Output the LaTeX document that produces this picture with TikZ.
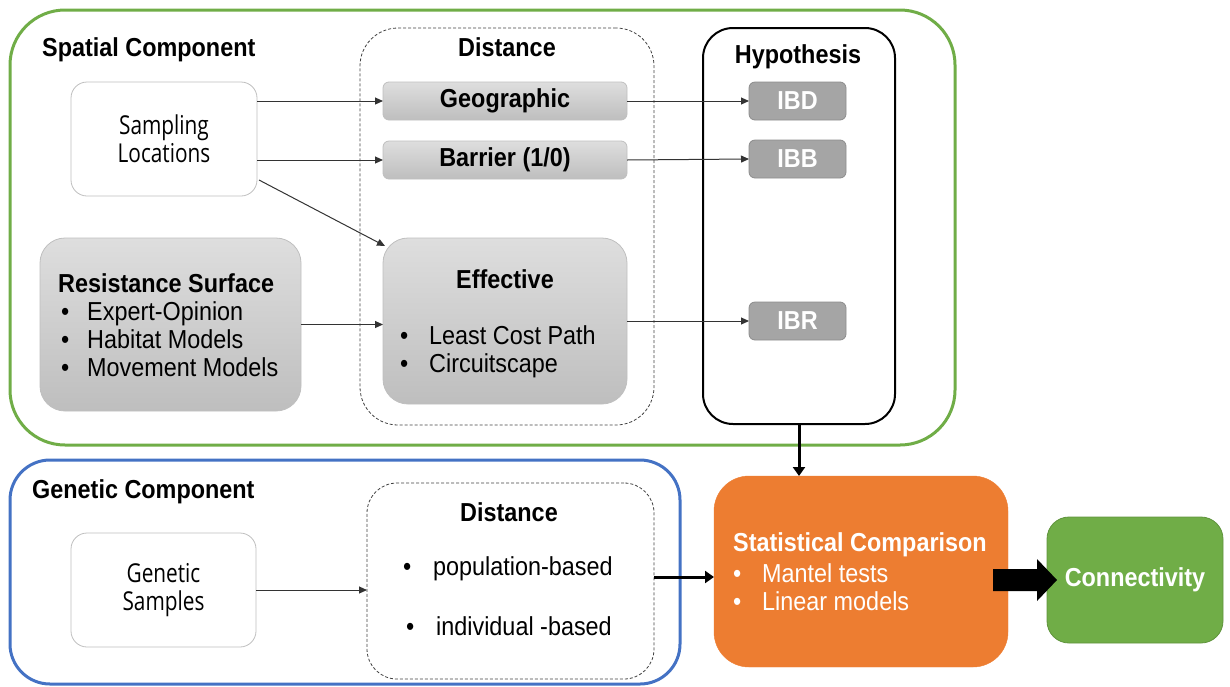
\documentclass[tikz,border=0pt]{standalone}
\usepackage{fontspec}
\setmainfont{Liberation Sans}[FakeStretch=0.9]
\newfontfamily\labelfont{Open Sans}[FakeStretch=0.8]
\usetikzlibrary{arrows.meta,calc}

\definecolor{sgreen}{HTML}{70AD47}
\definecolor{gblue}{HTML}{4472C4}
\definecolor{sorange}{HTML}{ED7D31}
\definecolor{hypfill}{HTML}{A5A5A5}
\definecolor{gtop}{HTML}{DEDEDE}
\definecolor{gbot}{HTML}{BEBEBE}
\definecolor{boxedge}{HTML}{BFBFBF}
\definecolor{linegray}{HTML}{333333}

\tikzset{
  base/.style={rectangle, inner sep=0pt, outer sep=0pt},
  panel/.style={base, line width=3pt},
  dashbox/.style={base, draw=black!75, line width=0.8pt, dash pattern=on 3pt off 2pt},
  greybox/.style={base, draw=boxedge, top color=gtop, bottom color=gbot, line width=0.8pt},
  hypbox/.style={base, draw=hypfill!85!black, fill=hypfill, text=white,
    font=\bfseries\fontsize{26}{28}\selectfont, line width=0.8pt, rounded corners=6pt,
    minimum width=97pt, minimum height=38pt},
  whitebox/.style={base, draw=boxedge, fill=white, line width=0.8pt, rounded corners=16pt,
    font=\labelfont\fontsize{26}{28}\selectfont, align=center},
  title/.style={inner sep=0pt, font=\bfseries\fontsize{26}{28}\selectfont},
  body/.style={inner sep=0pt, align=left, font=\fontsize{26}{28}\selectfont},
  link/.style={draw=linegray, line width=1pt, -{Triangle[length=8pt,width=7pt]}},
  boldlink/.style={draw=black, line width=3pt, -{Triangle[length=9pt,width=12pt]}},
}

\begin{document}
\begin{tikzpicture}[x=1pt,y=-1pt]
\useasboundingbox (0,0) rectangle (1230,686);

% outer panels
\node[panel, draw=sgreen, rounded corners=55pt, minimum width=945pt, minimum height=435pt]
  (spatial) at (482.5,227.5) {};
\node[panel, draw=gblue, rounded corners=40pt, minimum width=670pt, minimum height=224pt]
  (genetic) at (345,572) {};

\node[title, anchor=west] (spatialtitle) at (42,50) {Spatial Component};
\node[title, anchor=west] (genetictitle) at (32,492) {Genetic Component};

% spatial distance group
\node[dashbox, rounded corners=38pt, minimum width=294pt, minimum height=397pt]
  (distS) at (507,226.5) {};
\node[title] (distStitle) at (507,47) {Distance};

% hypothesis group
\node[base, draw=black, line width=2pt, rounded corners=30pt, minimum width=192pt, minimum height=396pt]
  (hyp) at (799,226) {};
\node[title] (hyptitle) at (798,57) {Hypothesis};

% spatial inputs
\node[whitebox, minimum width=186pt, minimum height=114pt] (samp) at (164,139)
  {Sampling\\Locations};
\node[greybox, rounded corners=25pt, minimum width=261pt, minimum height=173pt]
  (res) at (170.5,324.5) {};
\node[title, anchor=west] (restitle) at (58,283) {Resistance Surface};
\node[body, anchor=west] (reslist) at (61,339)
  {\makebox[26pt][l]{•}Expert-Opinion\\\makebox[26pt][l]{•}Habitat Models\\\makebox[26pt][l]{•}Movement Models};

% spatial distances
\node[greybox, rounded corners=6pt, minimum width=244pt, minimum height=38pt,
  font=\bfseries\fontsize{26}{28}\selectfont] (geo) at (505,101) {Geographic};
\node[greybox, rounded corners=6pt, minimum width=244pt, minimum height=38pt,
  font=\bfseries\fontsize{26}{28}\selectfont] (bar) at (505,160) {Barrier (1/0)};
\node[greybox, rounded corners=25pt, minimum width=244pt, minimum height=166pt]
  (eff) at (505,321) {};
\node[title] (efftitle) at (505,279) {Effective};
\node[body, anchor=west] (efflist) at (400,352)
  {\makebox[29pt][l]{•}Least Cost Path\\\makebox[29pt][l]{•}Circuitscape};

% hypotheses
\node[hypbox] (ibd) at (797.5,101) {IBD};
\node[hypbox] (ibb) at (797.5,159) {IBB};
\node[hypbox] (ibr) at (797.5,321) {IBR};

% genetic component
\node[whitebox, minimum width=185pt, minimum height=114pt] (gsamp) at (163.5,590)
  {Genetic\\Samples};
\node[dashbox, rounded corners=30pt, minimum width=287pt, minimum height=196pt]
  (distG) at (510.5,581) {};
\node[title] (distGtitle) at (509,512) {Distance};
\node[body, anchor=west] (popb) at (403,569) {\makebox[30pt][l]{•}population-based};
\node[body, anchor=west] (indb) at (406,626) {\makebox[30pt][l]{•}individual -based};

% comparison and result
\node[base, fill=sorange, draw=sorange, rounded corners=35pt, minimum width=294pt, minimum height=191pt]
  (stat) at (861,571.5) {};
\node[title, anchor=west, text=white] (stattitle) at (733,545) {Statistical Comparison};
\node[body, anchor=west, text=white] (statlist) at (733,587)
  {\makebox[29pt][l]{•}Mantel tests\\\makebox[29pt][l]{•}Linear models};
\node[base, fill=sgreen, draw=sgreen!85!black, line width=0.8pt, rounded corners=22pt,
  minimum width=176pt, minimum height=126pt, text=white,
  font=\bfseries\fontsize{26}{28}\selectfont] (conn) at (1135,580) {Connectivity};

% connectors
\draw[link] (samp.east |- geo.west) -- (geo.west);
\draw[link] (samp.east |- bar.west) -- (bar.west);
\draw[link] ($(samp.south east)+(2,-16)$) -- ($(eff.north west)+(2,8)$);
\draw[link] (res.east) -- (res.east -| eff.west);
\draw[link] (geo.east) -- (ibd.west);
\draw[link] (bar.east) -- (ibb.west);
\draw[link] (eff.east) -- (ibr.west);
\draw[link] (gsamp.east) -- (gsamp.east -| distG.west);

\draw[boldlink] (hyp.south) -- (hyp.south |- stat.north);
\draw[boldlink] ($(distG.east)+(0,-4)$) -- ($(distG.east -| stat.west)+(0,-4)$);

% block arrow into the result
\coordinate (bstart) at ($(stat.east)+(-15,8.5)$);
\coordinate (btip) at ($(conn.west)+(10,0)$);
\fill[black] (bstart) ++(0,-11) -- ($(btip)+(-20,-11)$) -- ($(btip)+(-20,-21)$) -- (btip)
  -- ($(btip)+(-20,21)$) -- ($(btip)+(-20,11)$) -- ($(bstart)+(0,11)$) -- cycle;
\end{tikzpicture}
\end{document}
